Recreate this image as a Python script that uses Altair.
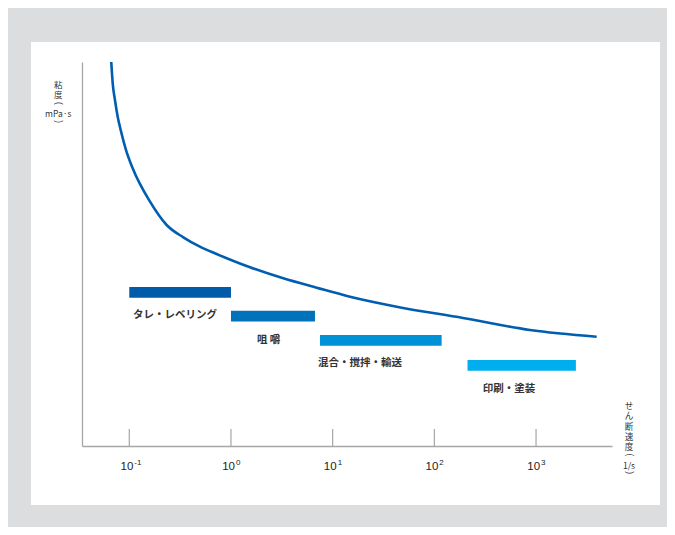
import altair as alt
import pandas as pd

# ---- data ----
curve_rate = [0.0665, 0.0687, 0.0723, 0.0769, 0.0823, 0.0929, 0.108, 0.160, 0.233, 0.340,
              0.495, 0.722, 1.54, 3.27, 6.97, 14.8, 42.6, 191, 871, 3945]
curve_visc = [100, 94.45, 90.10, 85.76, 82.29, 77.08, 72.32, 63.62, 57.55, 54.35,
              51.90, 50.0, 46.54, 43.67, 41.22, 38.88, 36.28, 33.33, 30.21, 28.46]

bar_names = ["タレ・レベリング", "咀 嚼", "混合・撹拌・輸送", "印刷・塗装"]
bar_start = [0.1, 1.0, 7.5, 212]
bar_end = [1.0, 6.7, 118, 2466]
bar_low = [38.6, 32.4, 26.1, 19.6]
bar_high = [41.4, 35.2, 28.9, 22.4]
bar_colors = ["#005bab", "#0072bc", "#0091d7", "#00aeef"]
label_x = [0.109, 1.80, 7.16, 299]
label_y = [34.1, 27.6, 21.7, 14.8]

tick_values = [0.1, 1, 10, 100, 1000]
tick_base = ["10", "10", "10", "10", "10"]
tick_exp = ["-1", "0", "1", "2", "3"]

# axis titles, written vertically; "(" and ")" are turned 90 degrees
y_title = ["粘", "度", "(", "mPa·s", ")"]
y_title_pos = [23, 32.5, 41.4, 51.5, 59.5]
x_title = ["せ", "ん", "断", "速", "度", "(", "1/s", ")"]
x_title_pos = [343.8, 354, 365.3, 375.3, 384.8, 392.8, 403.8, 410.5]

# ---- scales / axes ----
xdom = [10 ** -1.465, 10 ** 3.747]
xs = alt.Scale(type="log", domain=xdom, nice=False)
ys = alt.Scale(domain=[0, 100], nice=False, zero=False)
ax = alt.Axis(labels=False, ticks=False, grid=False, title=None,
              domainColor="#a6a6a6", domainWidth=1.3, zindex=1)

curve_df = pd.DataFrame({"rate": curve_rate, "visc": curve_visc})
bars_df = pd.DataFrame({"name": bar_names, "x0": bar_start, "x1": bar_end,
                        "y0": bar_low, "y1": bar_high, "c": bar_colors,
                        "lx": label_x, "ly": label_y})
ticks_df = pd.DataFrame({"v": tick_values, "b": tick_base, "e": tick_exp})

panel = alt.Chart(pd.DataFrame({"k": [0]})).mark_rect(color="white").encode(
    x=alt.value(-51), x2=alt.value(578), y=alt.value(-20), y2=alt.value(443)
)

bars = alt.Chart(bars_df).mark_rect().encode(
    x=alt.X("x0:Q", scale=xs, axis=ax), x2="x1:Q",
    y=alt.Y("y0:Q", scale=ys, axis=ax), y2="y1:Q",
    color=alt.Color("c:N", scale=None),
)

bar_labels = alt.Chart(bars_df).mark_text(
    align="left", baseline="middle", fontSize=10.5, fontWeight="bold",
    font="Noto Sans CJK JP", color="#333333"
).encode(x=alt.X("lx:Q", scale=xs, axis=ax), y=alt.Y("ly:Q", scale=ys, axis=ax),
         text="name:N")

curve = alt.Chart(curve_df).mark_line(
    color="#005eb0", strokeWidth=2.6, interpolate="monotone", clip=True
).encode(x=alt.X("rate:Q", scale=xs, axis=ax), y=alt.Y("visc:Q", scale=ys, axis=ax))

tick_rules = alt.Chart(ticks_df).mark_rule(color="#a6a6a6", strokeWidth=1.2).encode(
    x=alt.X("v:Q", scale=xs, axis=ax), y=alt.value(384), y2=alt.value(367)
)

tick_base_txt = alt.Chart(ticks_df).mark_text(
    align="right", baseline="alphabetic", dx=4, fontSize=11.5,
    font="Liberation Sans", color="#222222"
).encode(x=alt.X("v:Q", scale=xs, axis=ax), y=alt.value(408), text="b:N")

tick_exp_txt = alt.Chart(ticks_df).mark_text(
    align="left", baseline="alphabetic", dx=5, fontSize=8,
    font="Liberation Sans", color="#222222"
).encode(x=alt.X("v:Q", scale=xs, axis=ax), y=alt.value(402.5), text="e:N")

layers = [panel, bars, bar_labels, curve, tick_rules, tick_base_txt, tick_exp_txt]

one = pd.DataFrame({"k": [0]})


def title_char(t, xpx, ypx, size):
    paren = t in ("(", ")")
    kw = dict(align="center", baseline="middle", text=t, color="#333333")
    if paren:
        kw.update(angle=90, fontSize=size - 0.3, font="Liberation Sans")
    else:
        kw.update(fontSize=size, font="Noto Sans CJK JP")
    return alt.Chart(one).mark_text(**kw).encode(x=alt.value(xpx), y=alt.value(ypx))


for t, p in zip(y_title, y_title_pos):
    layers.append(title_char(t, -23.7, p, 8.5))
for t, p in zip(x_title, x_title_pos):
    layers.append(title_char(t, 547, p, 8.6))

chart = alt.layer(*layers).properties(
    width=530, height=384,
    autosize=alt.AutoSizeParams(type="none"),
    padding={"left": 74, "top": 54, "right": 55, "bottom": 81},
    background="#dcdddf",
).configure_view(stroke=None)

chart.save("out.html", embed_options={"renderer": "svg", "actions": False})
